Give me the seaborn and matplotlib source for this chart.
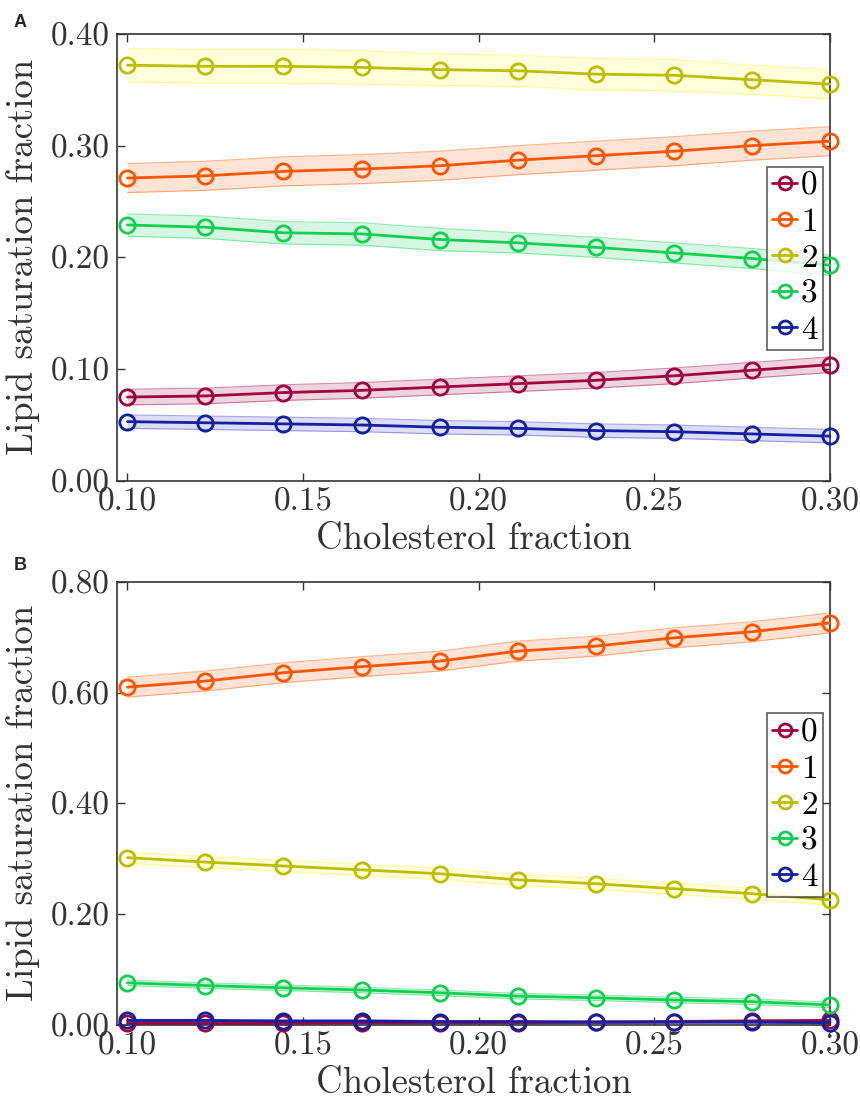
import matplotlib
matplotlib.use('Agg')
import matplotlib.pyplot as plt
import seaborn as sns
from matplotlib.ticker import FormatStrFormatter, MultipleLocator

# cholesterol fraction (x), same for both panels
chol = [0.1000, 0.1222, 0.1444, 0.1667, 0.1889, 0.2111, 0.2333, 0.2556, 0.2778, 0.3000]
labels = ['0', '1', '2', '3', '4']
line_colors = ['#A00040', '#FF5500', '#BDBD00', '#10D050', '#1020A0']
band_colors = ['#A00040', '#FF5A00', '#FFFF30', '#10D050', '#3A3AD0']

# panel A: mean values and band half-widths
a_mean = {
    '0': [0.075, 0.076, 0.079, 0.081, 0.084, 0.087, 0.090, 0.094, 0.099, 0.104],
    '1': [0.271, 0.273, 0.277, 0.279, 0.282, 0.287, 0.291, 0.295, 0.300, 0.304],
    '2': [0.372, 0.371, 0.371, 0.370, 0.368, 0.367, 0.364, 0.363, 0.359, 0.355],
    '3': [0.229, 0.227, 0.222, 0.221, 0.216, 0.213, 0.209, 0.204, 0.199, 0.193],
    '4': [0.053, 0.052, 0.051, 0.050, 0.048, 0.047, 0.045, 0.044, 0.042, 0.040],
}
a_err = {
    '0': [0.007, 0.007, 0.007, 0.007, 0.007, 0.007, 0.007, 0.007, 0.007, 0.007],
    '1': [0.013, 0.013, 0.013, 0.013, 0.013, 0.013, 0.013, 0.013, 0.013, 0.013],
    '2': [0.015, 0.015, 0.015, 0.015, 0.014, 0.014, 0.014, 0.014, 0.013, 0.013],
    '3': [0.010, 0.010, 0.010, 0.010, 0.010, 0.009, 0.009, 0.009, 0.009, 0.009],
    '4': [0.006, 0.006, 0.006, 0.006, 0.006, 0.006, 0.006, 0.006, 0.006, 0.006],
}

# panel B
b_mean = {
    '0': [0.003, 0.003, 0.003, 0.004, 0.004, 0.004, 0.005, 0.006, 0.007, 0.008],
    '1': [0.610, 0.621, 0.636, 0.647, 0.657, 0.675, 0.684, 0.699, 0.710, 0.726],
    '2': [0.302, 0.294, 0.287, 0.280, 0.273, 0.262, 0.255, 0.246, 0.237, 0.226],
    '3': [0.076, 0.071, 0.067, 0.063, 0.058, 0.052, 0.049, 0.045, 0.042, 0.036],
    '4': [0.008, 0.008, 0.007, 0.007, 0.006, 0.006, 0.005, 0.005, 0.005, 0.004],
}
b_err = {
    '0': [0.002, 0.002, 0.002, 0.002, 0.002, 0.002, 0.002, 0.002, 0.002, 0.002],
    '1': [0.018, 0.018, 0.018, 0.018, 0.018, 0.018, 0.018, 0.018, 0.018, 0.018],
    '2': [0.010, 0.010, 0.010, 0.010, 0.010, 0.010, 0.010, 0.010, 0.010, 0.010],
    '3': [0.005, 0.005, 0.005, 0.005, 0.005, 0.005, 0.005, 0.005, 0.005, 0.005],
    '4': [0.002, 0.002, 0.002, 0.002, 0.002, 0.002, 0.002, 0.002, 0.002, 0.002],
}

sns.set_theme(style='ticks')
plt.rcParams['font.family'] = ['cmr10', 'DejaVu Serif']
plt.rcParams['axes.formatter.use_mathtext'] = True
plt.rcParams['axes.unicode_minus'] = False


def draw_panel(ax, means, errs, ymax, ystep):
    for k, lab in enumerate(labels):
        m = means[lab]
        e = errs[lab]
        lo = [v - d for v, d in zip(m, e)]
        hi = [v + d for v, d in zip(m, e)]
        ax.fill_between(chol, lo, hi, facecolor=band_colors[k], alpha=0.17, lw=0)
        ax.plot(chol, lo, color=band_colors[k], alpha=0.45, lw=0.8)
        ax.plot(chol, hi, color=band_colors[k], alpha=0.45, lw=0.8)
    for k, lab in enumerate(labels):
        sns.lineplot(x=chol, y=means[lab], ax=ax, color=line_colors[k], lw=2,
                     marker='o', ms=11, mfc='none', mec=line_colors[k], mew=2,
                     label=lab, clip_on=False, zorder=5)
    ax.set_xlim(0.097, 0.300)
    ax.set_ylim(0, ymax)
    ax.xaxis.set_major_locator(MultipleLocator(0.05))
    ax.yaxis.set_major_locator(MultipleLocator(ystep))
    ax.xaxis.set_major_formatter(FormatStrFormatter('%.2f'))
    ax.yaxis.set_major_formatter(FormatStrFormatter('%.2f'))
    ax.tick_params(direction='in', top=True, right=True, length=6, width=1,
                   labelsize=24, colors='#333333', pad=5)
    for s in ax.spines.values():
        s.set_color('#333333')
        s.set_linewidth(1.2)
    ax.set_xlabel('Cholesterol fraction', fontsize=26.5, color='#333333', labelpad=4)
    ax.set_ylabel('Lipid saturation fraction', fontsize=26.5, color='#333333', labelpad=8)
    leg = ax.legend(loc='upper right', bbox_to_anchor=(0.99, 0.703), fontsize=24,
                    frameon=True, fancybox=False, handlelength=0.75, handletextpad=0.12,
                    borderpad=0.15, labelspacing=0.2, borderaxespad=0,
                    markerscale=0.85, labelcolor='black')
    leg.get_frame().set_edgecolor('#333333')
    leg.get_frame().set_linewidth(1.2)


fig = plt.figure(figsize=(8.6, 11.08), dpi=100)
ax1 = fig.add_axes([0.136, 0.566, 0.829, 0.4034])
ax2 = fig.add_axes([0.136, 0.075, 0.829, 0.3998])

draw_panel(ax1, a_mean, a_err, 0.40, 0.10)
draw_panel(ax2, b_mean, b_err, 0.80, 0.20)

fig.text(0.016, 0.980, 'A', fontsize=13, fontweight='bold', family='Liberation Sans',
         ha='left', va='center')
fig.text(0.016, 0.490, 'B', fontsize=13, fontweight='bold', family='Liberation Sans',
         ha='left', va='center')

fig.savefig('out.png', dpi=100)
